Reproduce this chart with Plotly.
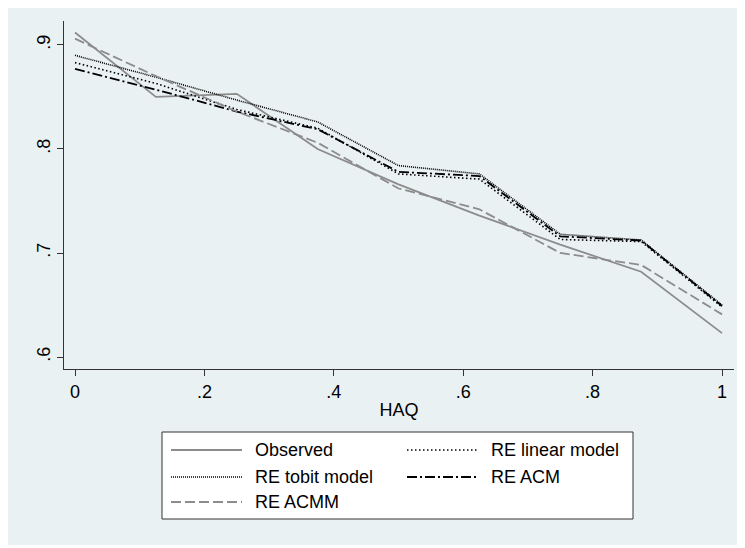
import plotly.graph_objects as go

# ---- data ----
haq = [0, 0.125, 0.25, 0.375, 0.5, 0.625, 0.75, 0.875, 1.0]
observed = [0.912, 0.850, 0.853, 0.800, 0.766, 0.736, 0.708, 0.682, 0.623]
re_linear = [0.883, 0.863, 0.838, 0.820, 0.776, 0.771, 0.713, 0.711, 0.648]
re_tobit = [0.890, 0.869, 0.847, 0.826, 0.784, 0.776, 0.718, 0.7125, 0.650]
re_acm = [0.877, 0.857, 0.836, 0.819, 0.778, 0.774, 0.716, 0.712, 0.649]
re_acmm = [0.906, 0.870, 0.836, 0.806, 0.762, 0.742, 0.700, 0.6885, 0.641]

x_ticks = [0, 0.2, 0.4, 0.6, 0.8, 1.0]
x_ticklabels = ["0", ".2", ".4", ".6", ".8", "1"]
y_ticks = [0.6, 0.7, 0.8, 0.9]
y_ticklabels = [".6", ".7", ".8", ".9"]

# ---- styling ----
W, H = 745, 548
OFF = 8  # page body margin in the browser
# plot area in screenshot pixels: x 64..734, y 21..369
ML = 64 - OFF
MT = 21 - OFF
MR = W - (734 - OFF)
MB = H - (369 - OFF)
BG = "#EAF1F3"
GRAY = "#8C8C8C"
FONT = "Liberation Sans, Arial, sans-serif"

series = [
    ("Observed", observed, dict(color=GRAY, width=1.8, dash="solid")),
    ("RE linear model", re_linear, dict(color="black", width=1.6, dash="1.5px,2.5px")),
    ("RE tobit model", re_tobit, dict(color="black", width=1.6, dash="1px,1px")),
    ("RE ACM", re_acm, dict(color="black", width=1.8, dash="10px,3px,2px,3px")),
    ("RE ACMM", re_acmm, dict(color=GRAY, width=1.8, dash="10px,4px")),
]

fig = go.Figure()
for name, ys, ln in series:
    fig.add_trace(go.Scatter(x=haq, y=ys, mode="lines", name=name, line=ln,
                             showlegend=False, hoverinfo="skip"))

pw = W - ML - MR
ph = H - MT - MB


def px(x):
    # screenshot x pixel -> paper coordinate
    return (x - OFF - ML) / pw


def py(y):
    # screenshot y pixel -> paper coordinate
    return (H - MB - (y - OFF)) / ph


shapes = [
    # graph region background
    dict(type="rect", xref="paper", yref="paper", x0=px(8), x1=px(745),
         y0=py(545), y1=py(8), fillcolor=BG, line=dict(width=0), layer="below"),
    # legend box
    dict(type="rect", xref="paper", yref="paper", x0=px(162), x1=px(633),
         y0=py(519), y1=py(432), fillcolor="white",
         line=dict(color="#333333", width=1), layer="above"),
]

annotations = []
legend_pos = [(171, 450), (407, 450), (171, 477), (407, 477), (171, 502)]
for (lx, ly), (name, ys, ln) in zip(legend_pos, series):
    shapes.append(dict(type="line", xref="paper", yref="paper",
                       x0=px(lx), x1=px(lx + 71), y0=py(ly), y1=py(ly),
                       line=ln, layer="above"))
    annotations.append(dict(xref="paper", yref="paper", x=px(lx + 82), y=py(ly),
                            text=name, showarrow=False, xanchor="left",
                            yanchor="middle", font=dict(size=18, color="black", family=FONT)))

fig.update_layout(
    width=W, height=H,
    margin=dict(l=ML, r=MR, t=MT, b=MB, pad=0, autoexpand=False),
    paper_bgcolor="white",
    plot_bgcolor="white",
    font=dict(family=FONT, size=18, color="black"),
    shapes=shapes,
    annotations=annotations,
    showlegend=False,
)

fig.update_xaxes(
    range=[-0.017, 1.0185], tickvals=x_ticks, ticktext=x_ticklabels,
    showgrid=False, zeroline=False, showline=True, linecolor="#333333", linewidth=1,
    ticks="outside", ticklen=6, tickcolor="#333333", tickwidth=1, automargin=False,
    tickfont=dict(size=18), title=dict(text="HAQ", standoff=2, font=dict(size=18)),
)
fig.update_yaxes(
    range=[0.5885, 0.923], tickvals=y_ticks, ticktext=y_ticklabels,
    showgrid=True, gridcolor=BG, gridwidth=2, zeroline=False,
    showline=True, linecolor="#333333", linewidth=1, automargin=False,
    ticks="outside", ticklen=6, tickcolor="#333333", tickwidth=1,
    tickangle=-90, tickfont=dict(size=18),
)

fig.write_html("out.html")
